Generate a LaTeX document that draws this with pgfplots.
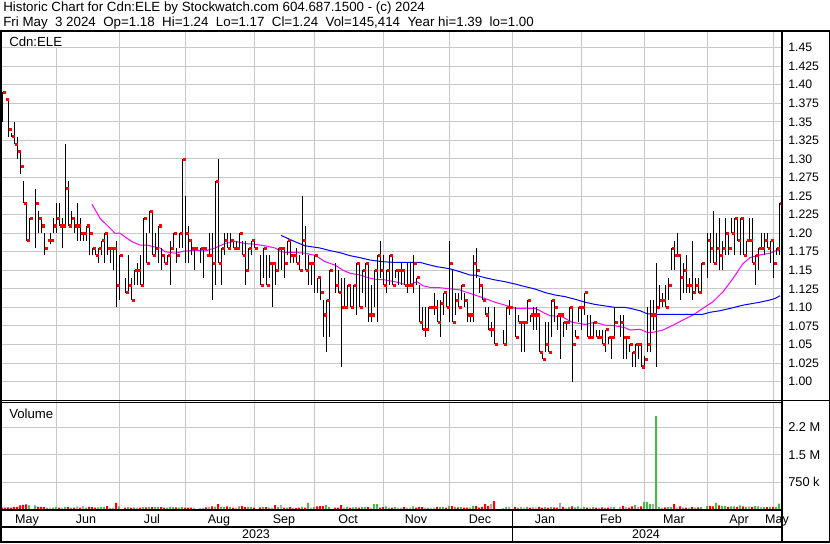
\documentclass[border=0pt]{standalone}
\usepackage{fontspec}
\setmainfont{Liberation Sans}
\usepackage{pgfplots}
\usepackage{pgfplotstable}
\pgfplotsset{compat=1.18}

\definecolor{gridgray}{RGB}{200,200,200}
\definecolor{vgreen}{RGB}{76,184,76}
\definecolor{vgray}{RGB}{170,170,170}
\definecolor{closered}{RGB}{255,0,0}
\definecolor{mamag}{RGB}{255,0,255}
\definecolor{mablue}{RGB}{0,0,255}

% d = weekday index from 3 May 2023, h/l/c = high/low/close, v = volume (thousands), k = 0 flat, 1 up, 2 down
\pgfplotstableread{
d h l c v k
3 1.39 1.35 1.39 55 2
4 1.38 1.38 1.38 50 2
5 1.38 1.33 1.34 60 2
6 1.335 1.33 1.33 55 2
7 1.35 1.32 1.32 70 2
8 1.33 1.30 1.31 75 2
9 1.31 1.28 1.29 110 2
10 1.27 1.24 1.24 125 2
11 1.24 1.19 1.19 140 2
12 1.22 1.19 1.22 110 1
14 1.26 1.18 1.24 115 1
15 1.23 1.20 1.22 75 2
16 1.22 1.20 1.21 70 2
17 1.20 1.17 1.18 65 2
18 1.19 1.19 1.19 45 1
19 1.20 1.185 1.19 50 0
20 1.22 1.20 1.21 55 1
21 1.24 1.20 1.22 70 1
22 1.24 1.21 1.21 55 2
23 1.22 1.18 1.21 50 0
24 1.32 1.21 1.26 75 1
25 1.27 1.21 1.21 65 2
26 1.23 1.21 1.22 50 1
27 1.22 1.20 1.21 55 2
28 1.24 1.19 1.21 85 0
29 1.22 1.19 1.20 55 2
30 1.20 1.19 1.20 90 0
31 1.21 1.19 1.21 55 1
32 1.21 1.17 1.20 75 2
33 1.18 1.17 1.18 65 2
34 1.18 1.17 1.17 55 2
35 1.18 1.16 1.18 60 1
36 1.19 1.17 1.19 70 1
37 1.20 1.16 1.20 75 1
38 1.20 1.17 1.18 90 2
39 1.18 1.16 1.18 45 0
40 1.18 1.15 1.18 55 0
41 1.19 1.10 1.13 180 2
42 1.17 1.11 1.17 85 1
44 1.14 1.12 1.12 55 2
45 1.17 1.12 1.13 65 1
46 1.14 1.11 1.11 55 2
47 1.15 1.13 1.15 60 1
48 1.16 1.13 1.15 55 0
49 1.17 1.13 1.13 50 2
50 1.22 1.13 1.22 65 1
51 1.20 1.16 1.16 60 2
52 1.23 1.20 1.23 70 1
53 1.23 1.17 1.17 65 2
54 1.20 1.17 1.18 75 1
55 1.21 1.16 1.21 75 1
56 1.18 1.15 1.17 65 2
57 1.17 1.16 1.16 55 2
58 1.17 1.16 1.17 55 1
59 1.19 1.13 1.18 70 1
60 1.20 1.18 1.20 65 1
61 1.18 1.16 1.17 60 2
62 1.20 1.18 1.20 55 1
63 1.30 1.18 1.30 75 1
64 1.25 1.16 1.20 55 2
65 1.21 1.16 1.19 50 2
66 1.19 1.17 1.18 55 2
67 1.18 1.15 1.18 45 0
69 1.18 1.16 1.18 45 0
70 1.18 1.14 1.18 55 0
71 1.17 1.17 1.17 60 2
72 1.20 1.17 1.17 70 0
73 1.20 1.11 1.16 85 2
74 1.27 1.13 1.27 75 1
75 1.30 1.16 1.16 145 2
76 1.18 1.13 1.18 75 1
77 1.20 1.17 1.19 65 1
78 1.20 1.18 1.18 85 2
79 1.20 1.18 1.19 75 1
80 1.19 1.18 1.18 55 2
81 1.19 1.18 1.18 50 0
82 1.20 1.18 1.20 85 1
83 1.19 1.17 1.17 90 2
84 1.19 1.13 1.15 65 2
85 1.18 1.15 1.18 75 1
86 1.19 1.17 1.19 75 1
87 1.19 1.18 1.18 55 2
89 1.17 1.13 1.13 60 2
90 1.18 1.14 1.18 75 1
91 1.17 1.13 1.13 65 2
92 1.17 1.14 1.16 50 1
93 1.16 1.10 1.16 55 0
94 1.16 1.13 1.15 120 2
95 1.18 1.15 1.18 65 1
96 1.18 1.15 1.18 120 0
97 1.18 1.14 1.16 55 2
98 1.19 1.17 1.19 50 1
99 1.19 1.16 1.17 65 2
100 1.17 1.16 1.17 45 0
101 1.18 1.16 1.16 45 2
102 1.17 1.15 1.15 55 2
103 1.25 1.17 1.19 75 1
104 1.21 1.15 1.15 55 2
105 1.17 1.13 1.16 180 1
106 1.16 1.13 1.16 55 0
107 1.17 1.12 1.17 65 1
108 1.14 1.12 1.14 85 2
109 1.14 1.11 1.12 90 2
110 1.11 1.06 1.09 95 2
111 1.11 1.04 1.11 120 1
112 1.15 1.06 1.15 65 1
114 1.16 1.12 1.13 55 2
115 1.15 1.12 1.12 50 2
116 1.14 1.02 1.10 120 2
117 1.14 1.10 1.10 55 0
118 1.13 1.10 1.13 75 1
119 1.13 1.10 1.10 55 2
120 1.13 1.10 1.13 60 1
121 1.16 1.09 1.16 65 1
122 1.16 1.10 1.10 55 2
123 1.15 1.12 1.15 65 1
124 1.16 1.10 1.16 75 1
125 1.16 1.08 1.09 65 2
126 1.13 1.08 1.09 55 0
127 1.15 1.10 1.15 145 1
128 1.17 1.08 1.17 150 1
129 1.19 1.14 1.15 55 2
130 1.17 1.13 1.13 65 2
131 1.15 1.12 1.15 85 1
132 1.17 1.13 1.17 55 1
133 1.17 1.13 1.13 55 2
134 1.15 1.14 1.15 65 1
135 1.15 1.13 1.15 50 0
136 1.16 1.13 1.15 55 0
137 1.15 1.13 1.13 70 2
138 1.16 1.12 1.13 55 0
139 1.16 1.13 1.13 55 0
140 1.17 1.12 1.16 85 1
141 1.14 1.13 1.14 55 2
142 1.13 1.08 1.08 75 2
143 1.10 1.07 1.07 65 2
144 1.10 1.06 1.07 55 0
145 1.10 1.07 1.10 55 1
146 1.10 1.10 1.10 45 0
147 1.12 1.09 1.10 50 0
148 1.11 1.08 1.08 70 2
149 1.11 1.06 1.105 65 1
150 1.12 1.09 1.12 75 1
151 1.12 1.10 1.10 55 2
152 1.19 1.08 1.16 100 1
153 1.15 1.08 1.08 95 2
154 1.12 1.09 1.11 75 1
155 1.12 1.10 1.10 60 2
156 1.13 1.11 1.13 65 1
157 1.12 1.10 1.11 55 2
158 1.11 1.08 1.09 50 2
159 1.09 1.08 1.09 60 0
160 1.17 1.08 1.16 100 1
161 1.18 1.14 1.15 95 2
162 1.14 1.12 1.13 55 2
163 1.13 1.11 1.11 70 2
164 1.10 1.09 1.09 145 2
165 1.10 1.07 1.07 100 2
166 1.08 1.06 1.07 145 0
167 1.10 1.05 1.05 230 2
170 1.07 1.05 1.05 45 0
171 1.10 1.05 1.10 75 1
172 1.11 1.09 1.10 75 0
174 1.10 1.06 1.06 75 2
175 1.09 1.08 1.08 50 1
176 1.08 1.04 1.08 75 0
177 1.08 1.04 1.08 55 0
178 1.11 1.08 1.11 70 1
179 1.09 1.08 1.09 55 2
180 1.10 1.07 1.09 65 0
181 1.10 1.07 1.09 55 0
182 1.09 1.04 1.04 75 2
183 1.04 1.03 1.03 55 2
184 1.08 1.04 1.05 70 1
185 1.08 1.04 1.04 55 2
186 1.11 1.06 1.11 70 1
187 1.11 1.08 1.10 60 2
188 1.09 1.07 1.09 55 2
189 1.09 1.03 1.09 180 0
190 1.08 1.06 1.08 75 2
191 1.08 1.07 1.08 55 0
192 1.10 1.08 1.10 75 1
193 1.10 1.00 1.05 85 2
194 1.07 1.06 1.06 60 1
195 1.10 1.08 1.10 85 1
196 1.10 1.07 1.10 55 0
197 1.12 1.09 1.12 70 1
198 1.09 1.06 1.06 55 2
199 1.09 1.06 1.06 55 0
200 1.08 1.06 1.08 70 1
201 1.07 1.06 1.06 55 2
202 1.07 1.06 1.06 50 0
203 1.07 1.05 1.05 60 2
204 1.07 1.04 1.07 55 1
205 1.06 1.05 1.06 50 2
206 1.06 1.03 1.06 70 0
207 1.10 1.06 1.08 65 1
209 1.09 1.06 1.08 75 0
210 1.09 1.03 1.06 100 2
211 1.06 1.03 1.06 65 0
212 1.05 1.04 1.05 55 2
213 1.04 1.02 1.04 85 2
214 1.05 1.02 1.05 120 1
215 1.05 1.03 1.05 75 0
216 1.05 1.02 1.02 85 2
217 1.035 1.02 1.03 210 1
218 1.10 1.04 1.05 210 1
219 1.11 1.04 1.09 150 1
220 1.11 1.07 1.09 145 0
221 1.16 1.02 1.10 2560 1
222 1.13 1.10 1.11 75 1
223 1.12 1.10 1.11 55 0
224 1.13 1.10 1.10 60 2
225 1.14 1.11 1.13 65 1
226 1.18 1.15 1.18 75 1
227 1.19 1.15 1.17 145 2
228 1.20 1.17 1.17 55 0
229 1.17 1.11 1.14 85 2
230 1.16 1.12 1.15 55 1
231 1.17 1.12 1.13 50 2
232 1.14 1.12 1.13 55 0
233 1.19 1.11 1.12 70 2
234 1.14 1.12 1.13 55 1
235 1.14 1.12 1.12 60 2
236 1.16 1.12 1.16 65 1
238 1.20 1.14 1.19 100 1
239 1.20 1.16 1.18 100 2
240 1.23 1.16 1.16 85 2
241 1.20 1.16 1.18 180 1
242 1.22 1.15 1.17 110 2
243 1.19 1.15 1.18 100 1
244 1.22 1.17 1.20 100 1
245 1.20 1.17 1.18 75 2
246 1.22 1.20 1.20 85 1
247 1.22 1.17 1.22 85 1
248 1.22 1.19 1.19 75 2
249 1.22 1.17 1.22 110 1
250 1.22 1.17 1.17 85 2
251 1.19 1.17 1.19 75 1
252 1.22 1.19 1.19 85 0
253 1.22 1.16 1.16 75 2
254 1.17 1.13 1.17 100 1
255 1.18 1.15 1.18 85 1
256 1.20 1.18 1.18 75 0
257 1.20 1.17 1.19 65 1
258 1.20 1.18 1.18 65 2
259 1.19 1.16 1.19 75 1
260 1.19 1.14 1.16 75 2
261 1.18 1.17 1.18 65 1
262 1.24 1.17 1.24 160 1
}\bars

% moving averages, x in chart pixels
\pgfplotstableread{
x y
92 1.239
100 1.220
110 1.2066
115 1.1998
120 1.200
125 1.195
132 1.1885
140 1.184
147 1.184
153 1.182
160 1.180
165 1.175
175 1.173
185 1.176
195 1.177
205 1.176
215 1.180
225 1.186
235 1.189
245 1.186
255 1.185
265 1.183
275 1.180
280 1.176
285 1.174
295 1.174
305 1.173
315 1.170
320 1.166
325 1.1616
335 1.157
343 1.150
350 1.146
360 1.1436
368 1.140
375 1.138
385 1.137
397 1.134
407 1.130
413 1.1325
417 1.1346
423 1.129
430 1.127
440 1.1265
450 1.125
460 1.1235
465 1.121
475 1.1167
485 1.112
495 1.107
505 1.103
515 1.0988
535 1.0988
545 1.092
550 1.0888
562 1.0875
572 1.080
585 1.077
595 1.080
605 1.076
615 1.0753
625 1.0726
630 1.0695
640 1.0705
647 1.0664
653 1.0664
663 1.0695
673 1.076
683 1.083
693 1.0897
703 1.0988
713 1.1077
723 1.121
733 1.139
743 1.159
750 1.167
760 1.1706
770 1.173
775 1.176
780 1.177
}\mafast

\pgfplotstableread{
x y
281 1.197
295 1.1885
305 1.183
315 1.181
320 1.180
330 1.1765
340 1.1737
350 1.1697
360 1.167
370 1.1638
383 1.1615
393 1.1607
420 1.1607
427 1.158
437 1.1548
450 1.152
460 1.148
470 1.1436
475 1.1436
485 1.140
495 1.137
505 1.1346
515 1.1315
525 1.128
535 1.1248
545 1.120
555 1.1167
565 1.1145
575 1.111
585 1.107
595 1.104
605 1.102
615 1.100
625 1.100
630 1.0988
640 1.0955
647 1.0915
657 1.0907
703 1.0907
710 1.0934
720 1.0955
733 1.0996
743 1.103
760 1.107
770 1.110
775 1.112
780 1.1157
}\maslow

\newcommand{\titlefont}{\fontsize{10}{12}\selectfont}
\newcommand{\panelfont}{\fontsize{9.9}{12}\selectfont}
\newcommand{\datefont}{\fontsize{9.4}{11}\selectfont}

\pgfplotsset{
  panel/.style={
    scale only axis, width=585pt, anchor=south west,
    xmin=2, xmax=782,
    axis line style={draw=none}, tick style={draw=none},
    xtick={56,119,185,254,314,383,449,512,581,644,707,773},
    xticklabels={,,,,,,,,,,,},
    grid=major, major grid style={gridgray, line width=0.75pt},
    yticklabel pos=right,
    yticklabel style={anchor=west, inner sep=0pt, xshift=4.5pt, font=\fontsize{9.2}{10}\selectfont},
  },
  volbar/.style={ybar, bar width=1.5pt, bar shift=0pt, draw=none, fill=#1, forget plot},
}

\begin{document}
\begin{tikzpicture}
\useasboundingbox (0,0) rectangle (622.5pt,-407.25pt);
\fill[white] (0,0) rectangle (622.5pt,-407.25pt);

% price panel
\begin{axis}[panel,
  at={(1.5pt,-300pt)}, height=276pt,
  ymin=0.97521, ymax=1.47103,
  ytick={1.00,1.025,1.05,1.075,1.10,1.125,1.15,1.175,1.20,1.225,1.25,1.275,1.30,1.325,1.35,1.375,1.40,1.425,1.45},
  yticklabels={1.00,1.025,1.05,1.075,1.10,1.125,1.15,1.175,1.20,1.225,1.25,1.275,1.30,1.325,1.35,1.375,1.40,1.425,1.45},
]
\addplot[mamag, line width=0.75pt] table[x=x, y=y] {\mafast};
\addplot[mablue, line width=0.75pt] table[x=x, y=y] {\maslow};
\addplot[draw=none, mark=none, forget plot, error bars/.cd, y dir=plus, y explicit, error mark=none,
  error bar style={draw=black, line width=0.75pt}]
  table[x expr=3*\thisrow{d}-6.5, y=l, y error expr=\thisrow{h}-\thisrow{l}] {\bars};
\addplot[closered, only marks, mark=square*, mark size=0.8pt, mark options={draw=none, fill=closered}, forget plot]
  table[x expr=3*\thisrow{d}-5, y=c] {\bars};
\end{axis}

% volume panel
\begin{axis}[panel,
  at={(1.5pt,-382.125pt)}, height=82.125pt,
  ymin=0, ymax=3000,
  ytick={750,1500,2250}, yticklabels={750 k,1.5 M,2.2 M},
  yticklabel style={font=\fontsize{9.6}{10}\selectfont},
]
\addplot[volbar=red, restrict expr to domain={\thisrow{k}}{2:2}]
  table[x expr=3*\thisrow{d}-7, y=v] {\bars};
\addplot[volbar=vgreen, restrict expr to domain={\thisrow{k}}{1:1}]
  table[x expr=3*\thisrow{d}-7, y=v] {\bars};
\addplot[volbar=vgray, restrict expr to domain={\thisrow{k}}{0:0}]
  table[x expr=3*\thisrow{d}-7, y=v] {\bars};
\end{axis}

% frame, labels and titles (pixel coordinates, y downwards)
\begin{scope}[x=0.75pt, y=-0.75pt]
\node[anchor=base west, inner sep=0pt, font=\titlefont] at (3,11.5) {Historic Chart for Cdn:ELE by Stockwatch.com 604.687.1500 - (c) 2024};
\node[anchor=base west, inner sep=0pt, font=\titlefont] at (3,26) {Fri May\ \ 3 2024\ \ Op=1.18\ \ Hi=1.24\ \ Lo=1.17\ \ Cl=1.24\ \ Vol=145,414\ \ Year hi=1.39\ \ lo=1.00};
\fill[white] (2,32) rectangle (64,46.5);
\node[anchor=base west, inner sep=0pt, font=\panelfont] at (9,46) {Cdn:ELE};
\node[anchor=base west, inner sep=0pt, font=\panelfont] at (9,418) {Volume};
\foreach \m/\xx in {May/27,Jun/86,Jul/152,Aug/219,Sep/284,Oct/348,Nov/416,Dec/480,Jan/545,Feb/611,Mar/674,Apr/739,May/777}
  \node[anchor=base, inner sep=0pt, font=\datefont] at (\xx,523) {\m};
\node[anchor=base, inner sep=0pt, font=\datefont] at (256,538.5) {2023};
\node[anchor=base, inner sep=0pt, font=\datefont] at (646,538.5) {2024};
\fill[black] (0,30) rectangle (830,32);
\fill[black] (0,30) rectangle (2,543);
\fill[black] (0,541) rectangle (830,543);
\fill[black] (828.5,30) rectangle (830,543);
\fill[black] (781,30) rectangle (783,543);
\fill[black] (0,509.3) rectangle (783,511);
\fill[black] (0,526) rectangle (783,527.7);
\fill[black] (511.5,510) rectangle (513,542);
\draw[line width=0.75pt] (0,400.5) -- (830,400.5);
\draw[line width=0.75pt] (0,402.5) -- (782,402.5);
\end{scope}
\end{tikzpicture}
\end{document}
